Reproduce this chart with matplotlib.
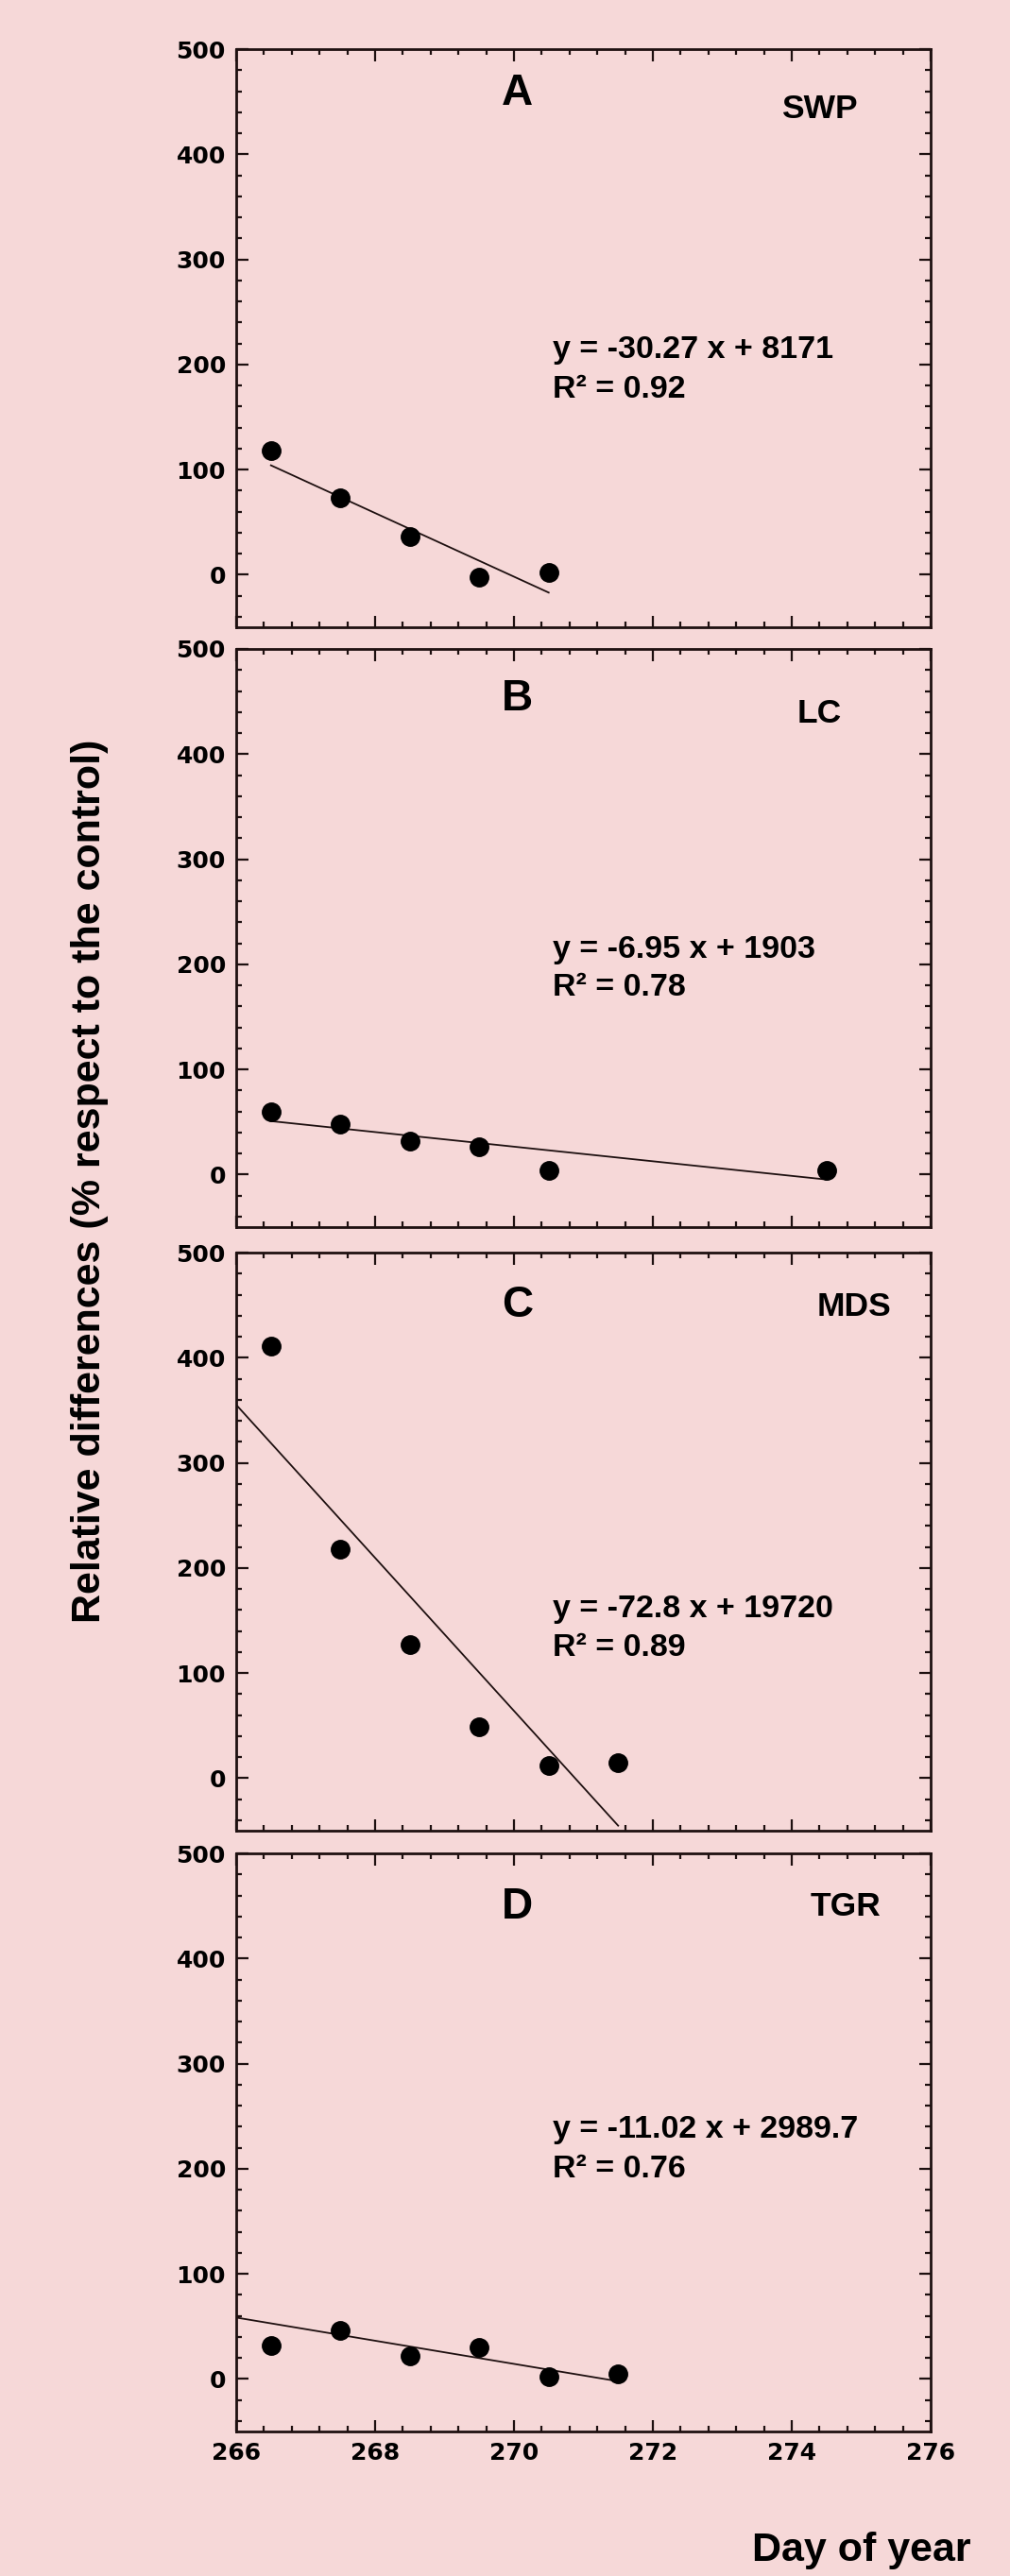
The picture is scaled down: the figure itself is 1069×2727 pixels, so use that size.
import matplotlib
matplotlib.use("Agg")
import matplotlib.pyplot as plt
import numpy as np
from matplotlib.ticker import MultipleLocator

# data
panels = ["A", "B", "C", "D"]
variables = ["SWP", "LC", "MDS", "TGR"]
x_A = [266.5, 267.5, 268.5, 269.5, 270.5]
y_A = [118, 73, 36, -2, 2]
x_B = [266.5, 267.5, 268.5, 269.5, 270.5, 274.5]
y_B = [60, 48, 32, 26, 4, 4]
x_C = [266.5, 267.5, 268.5, 269.5, 270.5, 271.5]
y_C = [411, 218, 127, 49, 12, 15]
x_D = [266.5, 267.5, 268.5, 269.5, 270.5, 271.5]
y_D = [32, 46, 22, 30, 2, 5]
slopes = [-30.27, -6.95, -72.8, -11.02]
intercepts = [8171, 1903, 19720, 2989.7]
fit_from = [266.5, 266.5, 266.0, 266.0]
fit_to = [270.5, 274.5, 271.5, 271.5]
equations = ["y = -30.27 x + 8171", "y = -6.95 x + 1903",
             "y = -72.8 x + 19720", "y = -11.02 x + 2989.7"]
r2_text = ["R² = 0.92", "R² = 0.78", "R² = 0.89", "R² = 0.76"]
xs = [x_A, x_B, x_C, x_D]
ys = [y_A, y_B, y_C, y_D]

# text placement (data coords)
letter_y = [458, 452, 450, 449]
var_pos = [(274.4, 443), (274.4, 438), (274.9, 448), (274.77, 449)]
eq_y = [214, 214, 161, 237]
r2_y = [176, 178, 124, 199]

bg = "#f6d8d8"
ink = "#1e1010"
arial = ["Liberation Sans", "DejaVu Sans"]

W, H = 1069, 2727
fig = plt.figure(figsize=(W / 100, H / 100), dpi=100, facecolor=bg)

left, right = 250, 985
tops = [52, 687, 1326, 1962]
ph = 612

for i in range(4):
    ax = fig.add_axes([left / W, 1 - (tops[i] + ph) / H, (right - left) / W, ph / H])
    ax.set_facecolor(bg)
    ax.plot(xs[i], ys[i], "o", color="black", markersize=14, zorder=3)
    xl = np.array([fit_from[i], fit_to[i]])
    ax.plot(xl, slopes[i] * xl + intercepts[i], "-", color=ink, linewidth=1.3)

    ax.set_xlim(266, 276)
    ax.set_ylim(-50, 500)
    ax.set_xticks(np.arange(266, 277, 2))
    ax.xaxis.set_minor_locator(MultipleLocator(0.4))
    ax.set_yticks(np.arange(0, 501, 100))
    ax.yaxis.set_minor_locator(MultipleLocator(20))
    ax.tick_params(which="both", direction="in", top=True, right=True,
                   color=ink, width=1.6)
    ax.tick_params(which="major", length=9, labelsize=18, pad=8)
    ax.tick_params(which="minor", length=4.5)
    for lab in ax.get_yticklabels() + ax.get_xticklabels():
        lab.set_fontweight("bold")
        lab.set_family("DejaVu Sans")
    if i < 3:
        ax.set_xticklabels([])
    for s in ax.spines.values():
        s.set_color(ink)
        s.set_linewidth(2)

    ax.text(270.05, letter_y[i], panels[i], ha="center", va="center", fontsize=33,
            fontweight="bold", family=arial)
    ax.text(var_pos[i][0], var_pos[i][1], variables[i], ha="center", va="center",
            fontsize=25.5, fontweight="bold", family=arial)
    ax.text(270.56, eq_y[i], equations[i], ha="left", va="center", fontsize=24.5,
            fontweight="bold", family=arial)
    ax.text(270.56, r2_y[i], r2_text[i], ha="left", va="center", fontsize=24.5,
            fontweight="bold", family=arial)

fig.text(95 / W, 1 - 1250 / H, "Relative differences (% respect to the control)",
         rotation=90, ha="center", va="center", fontsize=31, fontweight="bold",
         family=arial)
fig.text(912 / W, 1 - 2700 / H, "Day of year", ha="center", va="center",
         fontsize=31, fontweight="bold", family=arial)

fig.savefig("out.png", dpi=100, facecolor=bg)
